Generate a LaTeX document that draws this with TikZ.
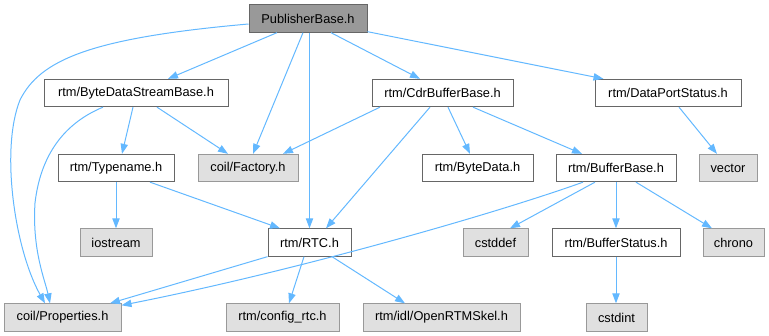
\documentclass[tikz,border=0pt]{standalone}
\usepackage{fontspec}
\setmainfont{Liberation Sans}
\usetikzlibrary{arrows.meta,calc}
\definecolor{edgec}{HTML}{63B8FF}
\definecolor{wbord}{HTML}{666666}
\definecolor{gbord}{HTML}{999999}
\definecolor{gfill}{HTML}{E0E0E0}
\definecolor{mainfill}{HTML}{999999}
\begin{document}
\begin{tikzpicture}[x=0.75pt,y=-0.75pt,
  box/.style={draw=wbord,fill=white,line width=0.75pt,minimum height=20.5pt,inner sep=0pt,font=\fontsize{9.6}{11}\selectfont},
  sysbox/.style={box,draw=gbord,fill=gfill},
  mainbox/.style={box,draw=wbord,fill=mainfill},
  dep/.style={draw=edgec,line width=0.75pt,-{Triangle[length=7.5pt,width=5.5pt]}}]
\useasboundingbox (0,0) rectangle (769,336);
\node[mainbox,minimum width=88.5pt] (pub) at (308,18.5) {PublisherBase.h};
\node[box,minimum width=138pt] (bdsb) at (136,93) {rtm/ByteDataStreamBase.h};
\node[box,minimum width=105.75pt] (cdr) at (442.5,93) {rtm/CdrBufferBase.h};
\node[box,minimum width=109.5pt] (dps) at (668,93) {rtm/DataPortStatus.h};
\node[box,minimum width=87pt] (tn) at (116,168) {rtm/Typename.h};
\node[sysbox,minimum width=75pt] (fac) at (248,168) {coil/Factory.h};
\node[box,minimum width=83.25pt] (bd) at (477.5,168) {rtm/ByteData.h};
\node[box,minimum width=90pt] (bb) at (616,168) {rtm/BufferBase.h};
\node[sysbox,minimum width=43.5pt] (vec) at (728,168) {vector};
\node[sysbox,minimum width=54pt] (ios) at (116,242.5) {iostream};
\node[box,minimum width=62.25pt] (rtc) at (309.5,242.5) {rtm/RTC.h};
\node[sysbox,minimum width=48.75pt] (csd) at (495.5,242.5) {cstddef};
\node[box,minimum width=96pt] (bs) at (616,242.5) {rtm/BufferStatus.h};
\node[sysbox,minimum width=45.75pt] (chr) at (733.5,242.5) {chrono};
\node[sysbox,minimum width=87.75pt] (prop) at (62.5,317.5) {coil/Properties.h};
\node[sysbox,minimum width=84.75pt] (cfg) at (282.5,317.5) {rtm/config\_rtc.h};
\node[sysbox,minimum width=117.75pt] (skel) at (441.5,317.5) {rtm/idl/OpenRTMSkel.h};
\node[sysbox,minimum width=45.75pt] (cint) at (616.5,317.5) {cstdint};
% edges
\draw[dep] ($(pub.south)+(-31,0)$) -- ($(bdsb.north)+(32,0)$);
\draw[dep] ($(pub.south)+(-5,0)$) -- ($(fac.north)+(5,0)$);
\draw[dep] (rtc.north |- pub.south) -- (rtc.north);
\draw[dep] ($(pub.south)+(23,0)$) -- ($(cdr.north)+(-22.5,0)$);
\draw[dep] ($(pub.south east)+(0,-1)$) -- ($(dps.north west)+(9,0)$);
\draw[dep] ($(pub.west)+(0,5.5)$) .. controls (90,38) and (40,60) .. (20,100) .. controls (0,150) and (15,250) .. ($(prop.north)+(-17.5,0)$);
\draw[dep] ($(bdsb.south)+(-33,0)$) .. controls (60,125) and (40,160) .. (35,203) .. controls (32,250) and (45,280) .. ($(prop.north)+(-12.5,0)$);
\draw[dep] ($(bdsb.south)+(-3,0)$) -- ($(tn.north)+(6,0)$);
\draw[dep] ($(bdsb.south)+(21,0)$) -- ($(fac.north)+(-20,0)$);
\draw[dep] ($(cdr.south)+(-62.5,0)$) -- ($(fac.north)+(35,0)$);
\draw[dep] ($(cdr.south)+(-12.5,0)$) -- ($(rtc.north)+(16.5,0)$);
\draw[dep] ($(cdr.south)+(5.5,0)$) -- ($(bd.north)+(-7.5,0)$);
\draw[dep] ($(cdr.south)+(30.5,0)$) -- ($(bb.north)+(-34,0)$);
\draw[dep] ($(dps.south)+(11,0)$) -- ($(vec.north)+(-11,0)$);
\draw[dep] (tn.south) -- (ios.north);
\draw[dep] ($(tn.south)+(34,0)$) -- ($(rtc.north)+(-29.5,0)$);
\draw[dep] ($(bb.south)+(-21,0)$) -- ($(csd.north)+(14.5,0)$);
\draw[dep] (bb.south) -- (bs.north);
\draw[dep] ($(bb.south)+(20,0)$) -- ($(chr.north)+(-21.5,0)$);
\draw[dep] ($(bb.south)+(-33,0)$) .. controls (500,212) and (300,270) .. ($(prop.north east)+(0,2)$);
\draw[dep] (rtc.south west) -- ($(prop.north)+(47.5,0)$);
\draw[dep] ($(rtc.south)+(-5.5,0)$) -- ($(cfg.north)+(6.5,0)$);
\draw[dep] ($(rtc.south)+(22.5,0)$) -- ($(skel.north)+(-36.5,0)$);
\draw[dep] (bs.south) -- (bs.south |- cint.north);
\end{tikzpicture}
\end{document}
